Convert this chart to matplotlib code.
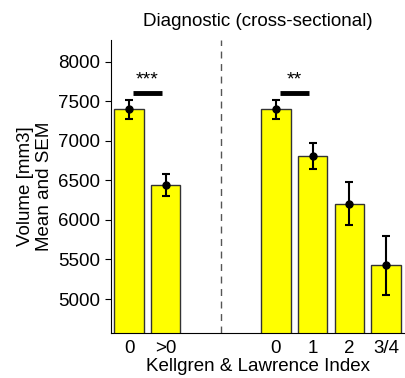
import matplotlib
matplotlib.use("Agg")
import matplotlib.pyplot as plt

plt.rcParams['font.family'] = ['Liberation Sans', 'DejaVu Sans']

categories = ["0", ">0", "0", "1", "2", "3/4"]
positions = [1, 2, 5, 6, 7, 8]
means = [7400, 6437, 7400, 6810, 6205, 5425]
sems = [118, 140, 118, 163, 275, 370]

sig_labels = ["***", "**"]
sig_x = [(1.1, 1.9), (5.1, 5.9)]
sig_y = [7605, 7605]

fig = plt.figure(figsize=(4.06, 3.78), dpi=100)
ax = fig.add_axes([0.2727, 0.119, 0.7236, 0.775])

ax.bar(positions, means, width=0.8, color="#FFFF00", edgecolor="#333333", linewidth=1.0, zorder=2)
ax.errorbar(positions, means, yerr=sems, fmt='o', color='black', ecolor='black',
            elinewidth=1.5, capsize=3, capthick=1.5, markersize=5, zorder=3)

for lab, (x0, x1), y in zip(sig_labels, sig_x, sig_y):
    ax.plot([x0, x1], [y, y], color='black', linewidth=3.5, solid_capstyle='butt', zorder=3)
    ax.text((x0 + x1) / 2, y + 60, lab, ha='center', va='bottom', fontsize=14)

ax.axvline(3.5, color='#555555', linestyle=(0, (5, 4)), linewidth=1.0, zorder=1)

ax.set_xlim(0.5, 8.5)
ax.set_ylim(4570, 8275)
ax.set_yticks([5000, 5500, 6000, 6500, 7000, 7500, 8000])
ax.set_xticks(positions)
ax.set_xticklabels(categories)
ax.tick_params(axis='x', length=0, labelsize=13.5, pad=5)
ax.tick_params(axis='y', length=4, width=0.8, labelsize=13.5, direction='out')

ax.spines['top'].set_visible(False)
ax.spines['right'].set_visible(False)

ax.set_title("Diagnostic (cross-sectional)", fontsize=13.5, pad=10)
ax.set_xlabel("Kellgren & Lawrence Index", fontsize=13.5, labelpad=1)
ax.set_ylabel("Volume [mm3]\nMean and SEM", fontsize=13.5, labelpad=4, linespacing=1.15)

fig.savefig("out.png", dpi=100)
